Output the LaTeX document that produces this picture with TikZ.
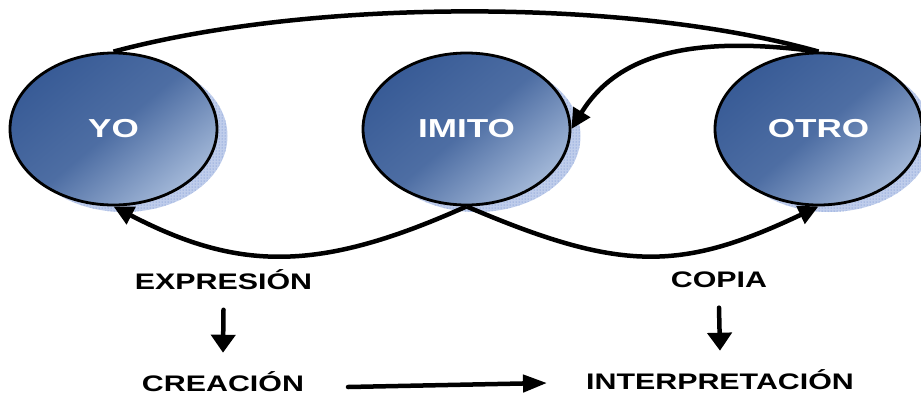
\documentclass[tikz,border=0pt]{standalone}
\usepackage{fontspec}
\setmainfont{Liberation Sans}
\newfontfamily\lblfont[FakeStretch=1.35]{Liberation Sans}
\usetikzlibrary{arrows.meta,shapes.geometric,patterns}
\definecolor{elldark}{HTML}{385B96}
\definecolor{elllight}{HTML}{A3B8D8}
\definecolor{shadowblue}{HTML}{5F82CC}
\tikzset{
  ellbox/.style={ellipse, minimum width=207pt, minimum height=152pt, inner sep=0pt,
    draw=black, line width=2.8pt, shade, top color=elldark, bottom color=elllight,
    middle color=elldark!80!elllight, shading angle=40,
    text=white, font=\lblfont\bfseries\fontsize{26}{30}\selectfont},
  ellshadow/.style={ellipse, minimum width=207pt, minimum height=152pt, inner sep=0pt,
    fill=shadowblue!40, postaction={pattern=dots, pattern color=shadowblue}},
  lbl/.style={text=black, inner sep=0pt, font=\lblfont\bfseries\fontsize{22.5}{26}\selectfont},
  conn/.style={line width=4.5pt, black},
  curvearrow/.style={conn, -{Triangle[length=20pt,width=19pt]}},
  downarrow/.style={line width=4.5pt, black, line cap=round, -{Triangle[length=18pt,width=24pt]}},
  sidearrow/.style={line width=4.5pt, black, line cap=round, -{Triangle[length=24pt,width=17pt]}}
}
\begin{document}
\begin{tikzpicture}[x=1pt,y=-1pt]
\useasboundingbox (0,0) rectangle (921,397);
% shadows
\node[ellshadow] (yosh) at (124,136) {};
\node[ellshadow] (imitosh) at (477,136) {};
\node[ellshadow] (otrosh) at (829,136) {};
% ellipses
\node[ellbox] (yo) at (113.5,129) {YO};
\node[ellbox] (imito) at (466.5,129) {IMITO};
\node[ellbox] (otro) at (818.5,129) {OTRO};
% labels
\node[lbl] (expr) at (223.5,279.5) {EXPRESIÓN};
\node[lbl] (copia) at (719,279.5) {COPIA};
\node[lbl] (crea) at (223,382) {CREACIÓN};
\node[lbl] (interp) at (720,380) {INTERPRETACIÓN};
% connectors
\draw[conn] (yo.north) .. controls (313,-2) and (629,-2) .. (otro.north);
\draw[curvearrow] (otro.north) .. controls (700,36) and (620,50) .. (imito.east);
\draw[curvearrow] (imito.south) .. controls (320,272) and (240,272) .. (yo.south);
\draw[curvearrow] (imito.south) .. controls (620,272) and (680,272) .. (otro.south);
\draw[downarrow] ([yshift=-20pt]expr.south) -- ([yshift=19pt]crea.north);
\draw[downarrow] ([yshift=-20pt]copia.south) -- ([yshift=19pt]interp.north);
\coordinate (hstart) at (348,387);
\coordinate (hend) at (547,383);
\draw[sidearrow] (hstart) -- (hend);
\end{tikzpicture}
\end{document}
